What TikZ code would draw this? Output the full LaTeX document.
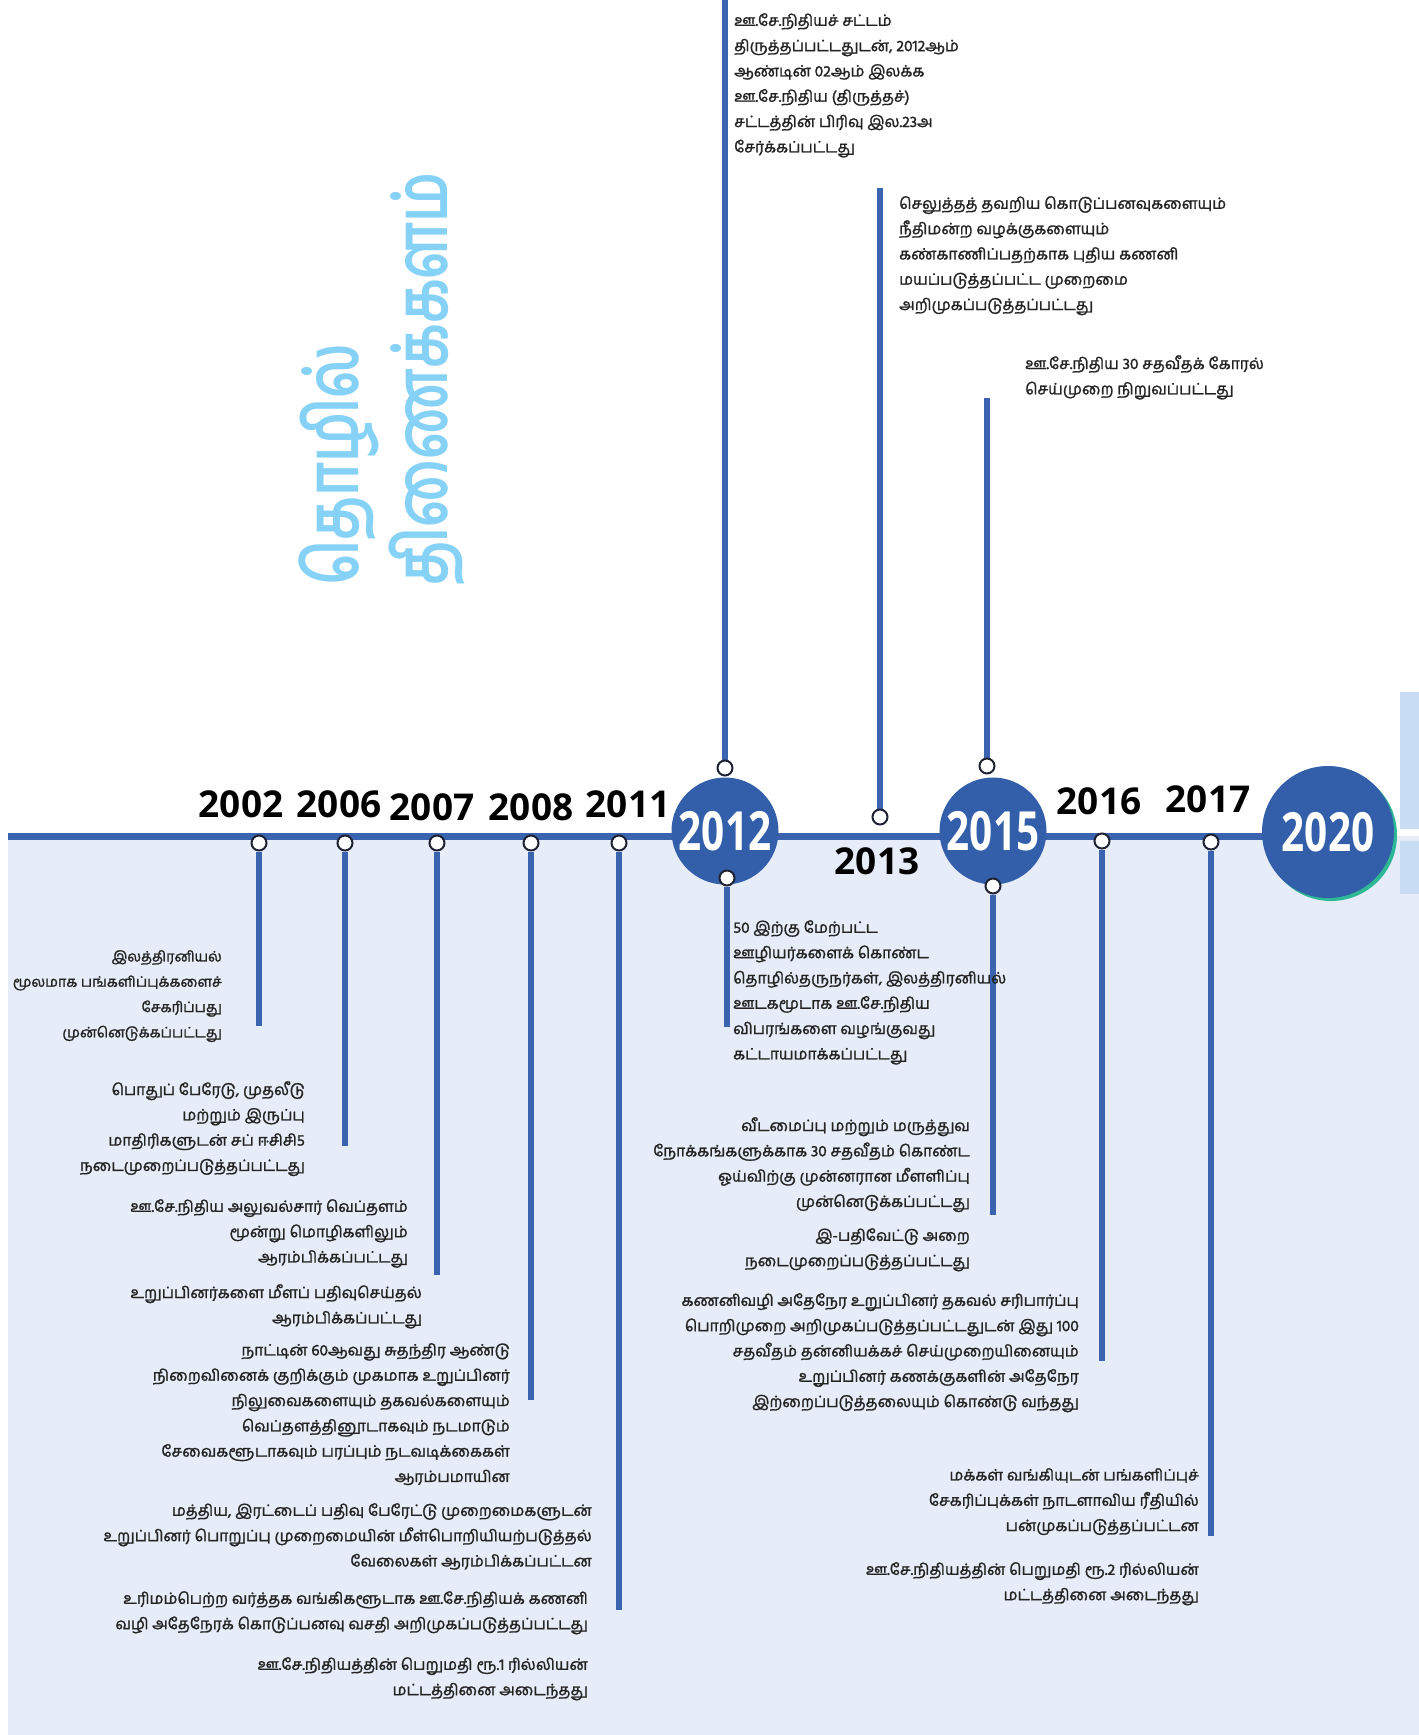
\documentclass[tikz,border=0pt]{standalone}
\usepackage{fontspec}
\newfontfamily\tamilfont[Script=Tamil,FakeBold=1.5]{Hind Madurai}
\newfontfamily\titlefont[Script=Tamil]{Hind Madurai}
\newfontfamily\numfont{Open Sans}
\definecolor{lineblue}{RGB}{58,100,176}
\definecolor{circleblue}{RGB}{50,94,170}
\definecolor{bgblue}{RGB}{230,236,248}
\definecolor{stripblue}{RGB}{200,220,243}
\definecolor{tealedge}{RGB}{45,185,150}
\definecolor{titleblue}{RGB}{134,210,246}
\definecolor{bodytext}{RGB}{35,35,35}
\definecolor{markeredge}{RGB}{30,34,50}
\pgfdeclarelayer{bg}
\pgfdeclarelayer{lines}
\pgfsetlayers{bg,lines,main}
\tikzset{
  vline/.style={line width=5.5pt, draw=lineblue},
  marker/.style={circle, draw=markeredge, fill=white, line width=2pt, minimum size=15pt, inner sep=0pt},
  yearlbl/.style={font=\numfont\bfseries\fontsize{37}{40}\selectfont, text=black, inner sep=0pt},
  bigyear/.style={circle, fill=circleblue, inner sep=0pt, text=white, font=\numfont\bfseries\fontsize{54}{56}\selectfont},
  ltext/.style={font=\tamilfont\fontsize{15.6}{25.3}\selectfont, align=left, anchor=north west, inner sep=0pt, text=bodytext},
  rtext/.style={font=\tamilfont\fontsize{15.6}{25.3}\selectfont, align=right, anchor=north east, inner sep=0pt, text=bodytext},
  titletext/.style={font=\titlefont\bfseries\fontsize{73}{76}\selectfont, text=titleblue, rotate=90, anchor=west, inner sep=0pt}
}
\begin{document}
\begin{tikzpicture}[x=1pt,y=-1pt]
\useasboundingbox (0,0) rectangle (1419,1735);
\begin{pgfonlayer}{bg}
\fill[bgblue] (8,836) rectangle (1419,1735);
\fill[stripblue] (1400,692) rectangle (1419,829);
\fill[stripblue] (1400,841) rectangle (1419,894);
\end{pgfonlayer}

% title
\node[titletext] (title1) at (339,586) {\scalebox{0.75}[1]{தொழில்}};
\node[titletext] (title2) at (427,586) {\scalebox{0.75}[1]{திணைக்களம்}};

% big circles
\node[circle, fill=tealedge, minimum size=132pt, inner sep=0pt] (c2020edge) at (1331,835) {};
\node[bigyear, minimum size=132pt] (c2020) at (1328,832) {\scalebox{0.75}[1]{2020}};
\node[bigyear, minimum size=107pt] (c2012) at (725,831) {\scalebox{0.75}[1]{2012}};
\node[bigyear, minimum size=107pt] (c2015) at (993,831) {\scalebox{0.75}[1]{2015}};

% main timeline
\coordinate (lstart) at (8,836);
\begin{pgfonlayer}{lines}
\draw[line width=7pt, lineblue] (lstart) -- (c2020.center |- lstart);
\end{pgfonlayer}

% year labels
\node[yearlbl] (y2002) at (241,804) {2002};
\node[yearlbl] (y2006) at (339,804) {2006};
\node[yearlbl] (y2007) at (432,807) {2007};
\node[yearlbl] (y2008) at (531,807) {2008};
\node[yearlbl] (y2011) at (628,804) {2011};
\node[yearlbl] (y2013) at (877,861) {2013};
\node[yearlbl] (y2016) at (1099,801) {2016};
\node[yearlbl] (y2017) at (1208,799) {2017};

% markers
\node[marker] (m2002) at (259,843) {};
\node[marker] (m2006) at (345,843) {};
\node[marker] (m2007) at (437,843) {};
\node[marker] (m2008) at (531,843) {};
\node[marker] (m2011) at (619,843) {};
\node[marker] (m2012t) at (725,768) {};
\node[marker] (m2012b) at (727,878) {};
\node[marker] (m2013) at (880,817) {};
\node[marker] (m2015t) at (987,766) {};
\node[marker] (m2015b) at (993,886) {};
\node[marker] (m2016) at (1102,841) {};
\node[marker] (m2017) at (1211,842) {};

% line ends
\coordinate (e2002) at (259,1026);
\coordinate (e2006) at (345,1146);
\coordinate (e2007) at (437,1275);
\coordinate (e2008) at (531,1400);
\coordinate (e2011) at (619,1610);
\coordinate (e2012t) at (725,0);
\coordinate (e2012b) at (727,1027);
\coordinate (e2013) at (880,188);
\coordinate (e2015t) at (987,398);
\coordinate (e2015b) at (993,1215);
\coordinate (e2016) at (1102,1361);
\coordinate (e2017) at (1211,1536);

\begin{pgfonlayer}{lines}
\draw[vline] (m2002) -- (e2002);
\draw[vline] (m2006) -- (e2006);
\draw[vline] (m2007) -- (e2007);
\draw[vline] (m2008) -- (e2008);
\draw[vline] (m2011) -- (e2011);
\draw[vline] (m2012t) -- (e2012t);
\draw[vline] (m2012b) -- (e2012b);
\draw[vline] (m2013) -- (e2013);
\draw[vline] (m2015t) -- (e2015t);
\draw[vline] (m2015b) -- (e2015b);
\draw[vline] (m2016) -- (e2016);
\draw[vline] (m2017) -- (e2017);
\end{pgfonlayer}

% texts above
\node[ltext] (t2012a) at (734,13) {ஊ.சே.நிதியச் சட்டம்\\திருத்தப்பட்டதுடன், 2012ஆம்\\ஆண்டின் 02ஆம் இலக்க\\ஊ.சே.நிதிய (திருத்தச்)\\சட்டத்தின் பிரிவு இல.23அ\\சேர்க்கப்பட்டது};
\node[ltext] (t2013) at (899,196) {செலுத்தத் தவறிய கொடுப்பனவுகளையும்\\நீதிமன்ற வழக்குகளையும்\\கண்காணிப்பதற்காக புதிய கணனி\\மயப்படுத்தப்பட்ட முறைமை\\அறிமுகப்படுத்தப்பட்டது};
\node[ltext] (t2015a) at (1025,355) {ஊ.சே.நிதிய 30 சதவீதக் கோரல்\\செய்முறை நிறுவப்பட்டது};

% texts below
\node[rtext, font=\tamilfont\fontsize{14.3}{25.3}\selectfont] (t2002) at (222,950) {இலத்திரனியல்\\மூலமாக பங்களிப்புக்களைச்\\சேகரிப்பது\\முன்னெடுக்கப்பட்டது};
\node[rtext] (t2006) at (305,1081) {பொதுப் பேரேடு, முதலீடு\\மற்றும் இருப்பு\\மாதிரிகளுடன் சப் ஈசிசி5\\நடைமுறைப்படுத்தப்பட்டது};
\node[rtext] (t2007) at (408,1199) {ஊ.சே.நிதிய அலுவல்சார் வெப்தளம்\\மூன்று மொழிகளிலும்\\ஆரம்பிக்கப்பட்டது};
\node[rtext] (t2008a) at (422,1284) {உறுப்பினர்களை மீளப் பதிவுசெய்தல்\\ஆரம்பிக்கப்பட்டது};
\node[rtext] (t2008b) at (510,1343) {நாட்டின் 60ஆவது சுதந்திர ஆண்டு\\நிறைவினைக் குறிக்கும் முகமாக உறுப்பினர்\\நிலுவைகளையும் தகவல்களையும்\\வெப்தளத்தினூடாகவும் நடமாடும்\\சேவைகளூடாகவும் பரப்பும் நடவடிக்கைகள்\\ஆரம்பமாயின};
\node[rtext] (t2011a) at (592,1503) {மத்திய, இரட்டைப் பதிவு பேரேட்டு முறைமைகளுடன்\\உறுப்பினர் பொறுப்பு முறைமையின் மீள்பொறியியற்படுத்தல்\\வேலைகள் ஆரம்பிக்கப்பட்டன};
\node[rtext] (t2011b) at (588,1591) {உரிமம்பெற்ற வர்த்தக வங்கிகளூடாக ஊ.சே.நிதியக் கணனி\\வழி அதேநேரக் கொடுப்பனவு வசதி அறிமுகப்படுத்தப்பட்டது};
\node[rtext] (t2011c) at (588,1657) {ஊ.சே.நிதியத்தின் பெறுமதி ரூ.1 ரில்லியன்\\மட்டத்தினை அடைந்தது};
\node[ltext] (t2012b) at (733,920) {50 இற்கு மேற்பட்ட\\ஊழியர்களைக் கொண்ட\\தொழில்தருநர்கள், இலத்திரனியல்\\ஊடகமூடாக ஊ.சே.நிதிய\\விபரங்களை வழங்குவது\\கட்டாயமாக்கப்பட்டது};
\node[rtext] (t2015b) at (970,1117) {வீடமைப்பு மற்றும் மருத்துவ\\நோக்கங்களுக்காக 30 சதவீதம் கொண்ட\\ஓய்விற்கு முன்னரான மீளளிப்பு\\முன்னெடுக்கப்பட்டது};
\node[rtext] (t2015c) at (970,1228) {இ-பதிவேட்டு அறை\\நடைமுறைப்படுத்தப்பட்டது};
\node[rtext] (t2016) at (1079,1293) {கணனிவழி அதேநேர உறுப்பினர் தகவல் சரிபார்ப்பு\\பொறிமுறை அறிமுகப்படுத்தப்பட்டதுடன் இது 100\\சதவீதம் தன்னியக்கச் செய்முறையினையும்\\உறுப்பினர் கணக்குகளின் அதேநேர\\இற்றைப்படுத்தலையும் கொண்டு வந்தது};
\node[rtext] (t2017a) at (1199,1468) {மக்கள் வங்கியுடன் பங்களிப்புச்\\சேகரிப்புக்கள் நாடளாவிய ரீதியில்\\பன்முகப்படுத்தப்பட்டன};
\node[rtext] (t2017b) at (1199,1562) {ஊ.சே.நிதியத்தின் பெறுமதி ரூ.2 ரில்லியன்\\மட்டத்தினை அடைந்தது};
\end{tikzpicture}
\end{document}
